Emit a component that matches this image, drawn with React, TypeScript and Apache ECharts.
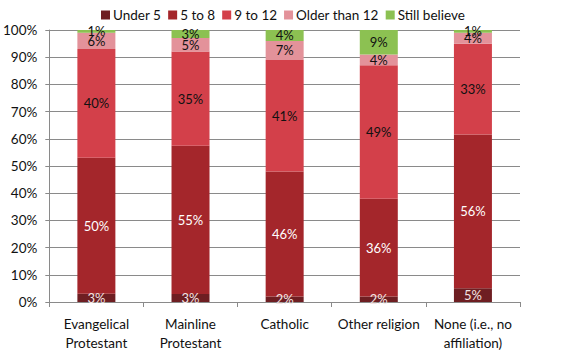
import React, { useEffect, useRef } from "react";
import * as echarts from "echarts";

const categories = [
  "Evangelical\nProtestant",
  "Mainline\nProtestant",
  "Catholic",
  "Other religion",
  "None (i.e., no\naffiliation)",
];
const seriesNames = ["Under 5", "5 to 8", "9 to 12", "Older than 12", "Still believe"];
const under5 = [3, 3, 2, 2, 5];
const fiveTo8 = [50, 55, 46, 36, 56];
const nineTo12 = [40, 35, 41, 49, 33];
const olderThan12 = [6, 5, 7, 4, 4];
const stillBelieve = [1, 3, 4, 9, 1];
const yTicks = [0, 10, 20, 30, 40, 50, 60, 70, 80, 90, 100];

const colors = ["#6E1E22", "#A4262B", "#D3404A", "#E3929A", "#8CC152"];
const labelColors = ["#F4E4E4", "#FFFFFF", "#111111", "#111111", "#111111"];

export default function App() {
  const ref = useRef<HTMLDivElement>(null);
  useEffect(() => {
    if (!ref.current) return;
    const chart = echarts.init(ref.current, null, { renderer: "svg" });
    const raw = [under5, fiveTo8, nineTo12, olderThan12, stillBelieve];
    const totals = categories.map((_, i) => raw.reduce((s, arr) => s + arr[i], 0));
    const font = "Lato";
    chart.setOption({
      animation: false,
      textStyle: { fontFamily: font },
      legend: {
        top: 3,
        left: 96,
        itemWidth: 9,
        itemHeight: 9,
        itemGap: 7,
        icon: "rect",
        textStyle: { fontFamily: font, fontSize: 13.5, color: "#111", padding: [0, 0, 0, -2] },
        data: seriesNames,
      },
      grid: { left: 48, right: 50, top: 30, bottom: 54, containLabel: false },
      xAxis: {
        type: "category",
        data: categories,
        axisLine: { show: true, lineStyle: { color: "#8a8a8a", width: 1 } },
        axisTick: { show: true, length: 5, lineStyle: { color: "#8a8a8a" } },
        axisLabel: { color: "#111", fontFamily: font, fontSize: 13.5, lineHeight: 19, margin: 12, interval: 0 },
      },
      yAxis: {
        type: "value",
        min: 0,
        max: 100,
        interval: 10,
        axisLine: { show: true, lineStyle: { color: "#8a8a8a" } },
        axisTick: { show: true, length: 4, lineStyle: { color: "#8a8a8a" } },
        splitLine: { show: true, lineStyle: { color: "#8a8a8a", width: 1 } },
        axisLabel: {
          color: "#111",
          fontFamily: font,
          fontSize: 13.5,
          margin: 12,
          formatter: (v: number) => (yTicks.includes(v) ? v + "%" : ""),
        },
      },
      series: raw.map((arr, si) => ({
        name: seriesNames[si],
        type: "bar",
        stack: "total",
        barWidth: 38,
        itemStyle: { color: colors[si] },
        label: {
          show: true,
          position: "inside",
          color: labelColors[si],
          fontFamily: font,
          fontSize: 13,
          formatter: (p: any) => arr[p.dataIndex] + "%",
        },
        data: arr.map((v, i) => (v / totals[i]) * 100),
      })),
    });
    return () => chart.dispose();
  }, []);
  return (
    <div
      ref={ref}
      style={{ position: "absolute", left: 0, top: 0, width: 570, height: 356, background: "#fff" }}
    />
  );
}
